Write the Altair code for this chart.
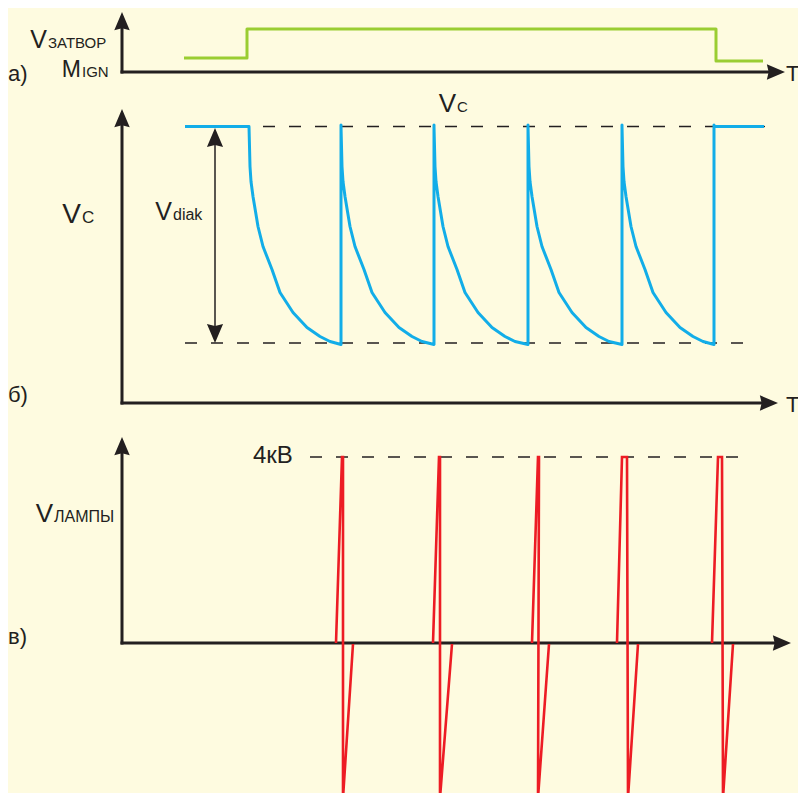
import altair as alt
import pandas as pd

BG = "#fefbe0"
INK = "#231f20"
GREEN = "#9acd32"
BLUE = "#12ade8"
RED = "#ed1c24"
FONT = "Liberation Sans"

# ---- geometry of the three panels (diagram units = page pixels) ----
axis_origin_x = 122
axis_base_y = [72, 403, 643]
axis_top_y = [12, 109, 437]
axis_right_x = [785, 778, 791]

# a) gate voltage
gate_x = [184, 247, 247, 716, 716, 763]
gate_y = [58, 58, 29, 29, 61, 61]

# б) capacitor voltage
vc_high = 126.5
vc_low = 343
vc_lead_x = 185
vc_tooth_start = [249, 341, 434, 528, 622]
vc_tooth_end = [341, 434, 528, 622, 714]
vc_tail_end = 764
vc_shape_dx = [0, 1, 2, 4, 9, 14, 23, 31, 44, 58, 71, 81]
vc_shape_dy = [0, 40, 55, 70, 100, 120, 143, 166, 186, 201, 210, 215]
vdiak_x = 215

# в) lamp voltage
lamp_base_y = 643
lamp_peak_y = 457
lamp_trough_y = 798
spike_rise_x = [336, 433, 532, 617, 712]
spike_peak_x = [342, 439, 538, 622, 718]
spike_fall_x = [343, 440, 539, 627, 722]
spike_trough_x = [343, 440, 538, 628, 723]
spike_return_x = [353, 452, 549, 638, 733]

# dashed reference lines: x start, x end, y
dash_x = [185, 185, 310]
dash_x2 = [765, 757, 745]
dash_y = [126.5, 343, 457]

# labels: big part (right aligned), small part (left aligned)
big_text = ["V", "M", "V", "V", "V", "V"]
big_x = [47, 81, 81, 172, 456, 53]
big_y = [48, 77, 223, 220, 112, 522]
big_size = [25, 23, 28, 25, 26, 26]
small_text = ["ЗАТВОР", "IGN", "C", "diak", "C", "ЛАМПЫ"]
small_size = [15, 15, 17, 16, 15, 16]
plain_text = ["а)", "б)", "в)", "4кВ", "T", "T"]
plain_x = [8, 8, 8, 253, 786, 786]
plain_y = [81, 402, 644, 463, 81, 412]
plain_size = [22, 22, 22, 24, 22, 22]

# ---- tables ----
xs = alt.Scale(domain=[8, 798], nice=False, zero=False)
ys = alt.Scale(domain=[8, 793], nice=False, zero=False, reverse=True)
X = lambda f="x": alt.X(f"{f}:Q", scale=xs, axis=None)
Y = lambda f="y": alt.Y(f"{f}:Q", scale=ys, axis=None)

# axes
ax_rows = []
for b, t, r in zip(axis_base_y, axis_top_y, axis_right_x):
    ax_rows.append(dict(x=axis_origin_x, x2=axis_origin_x, y=b + 1.5, y2=t + 6))
    ax_rows.append(dict(x=axis_origin_x - 1.5, x2=r - 6, y=b, y2=b))
axes_df = pd.DataFrame(ax_rows)

arrow_rows = []
for b, t, r in zip(axis_base_y, axis_top_y, axis_right_x):
    arrow_rows.append(dict(x=axis_origin_x, y=t, angle=0, size=330))
    arrow_rows.append(dict(x=r, y=b, angle=90, size=330))
arrow_rows.append(dict(x=vdiak_x, y=vc_high + 1.5, angle=0, size=360))
arrow_rows.append(dict(x=vdiak_x, y=vc_low, angle=180, size=360))
arrows_df = pd.DataFrame(arrow_rows)

vdiak_df = pd.DataFrame([dict(x=vdiak_x, x2=vdiak_x, y=vc_high + 8, y2=vc_low - 8)])

dash_df = pd.DataFrame(dict(x=dash_x, x2=dash_x2, y=dash_y))

gate_df = pd.DataFrame(dict(x=gate_x, y=gate_y, i=range(len(gate_x))))

vc_rows = [(vc_lead_x, vc_high)]
for s, e in zip(vc_tooth_start, vc_tooth_end):
    vc_rows.append((s, vc_high))
    for dx, dy in zip(vc_shape_dx, vc_shape_dy):
        vc_rows.append((s + dx, vc_high + dy))
    vc_rows.append((e, vc_low + 1.5))
    vc_rows.append((e, vc_high - 1.5))
vc_rows.append((vc_tooth_end[-1], vc_high))
vc_rows.append((vc_tail_end, vc_high))
vc_df = pd.DataFrame(vc_rows, columns=["x", "y"])
vc_df["i"] = range(len(vc_df))

lamp_rows = []
for k in range(len(spike_rise_x)):
    pts = [(spike_rise_x[k], lamp_base_y), (spike_peak_x[k], lamp_peak_y),
           (spike_fall_x[k], lamp_peak_y), (spike_trough_x[k], lamp_trough_y),
           (spike_return_x[k], lamp_base_y + 1)]
    for j, (px, py) in enumerate(pts):
        lamp_rows.append(dict(x=px, y=py, spike=k, i=j))
lamp_df = pd.DataFrame(lamp_rows)

big_df = pd.DataFrame(dict(x=big_x, y=big_y, t=big_text, s=big_size))
small_df = pd.DataFrame(dict(x=[v + 1 for v in big_x], y=big_y, t=small_text, s=small_size))
plain_df = pd.DataFrame(dict(x=plain_x, y=plain_y, t=plain_text, s=plain_size))

ARROW = "M0,0L0.85,2L0,1.8L-0.85,2Z"

layers = [
    alt.Chart(dash_df).mark_rule(color=INK, strokeWidth=1.3, strokeDash=[12, 14]).encode(
        x=X(), x2="x2:Q", y=Y()),
    alt.Chart(axes_df).mark_rule(color=INK, strokeWidth=3).encode(
        x=X(), x2="x2:Q", y=Y(), y2="y2:Q"),
    alt.Chart(vdiak_df).mark_rule(color=INK, strokeWidth=1.5).encode(
        x=X(), x2="x2:Q", y=Y(), y2="y2:Q"),
    alt.Chart(arrows_df).mark_point(shape=ARROW, filled=True, opacity=1, color=INK, strokeWidth=0).encode(
        x=X(), y=Y(), angle=alt.Angle("angle:Q", scale=None), size=alt.Size("size:Q", scale=None)),
    alt.Chart(gate_df).mark_line(color=GREEN, strokeWidth=3, strokeJoin="round").encode(
        x=X(), y=Y(), order="i:Q"),
    alt.Chart(vc_df).mark_line(color=BLUE, strokeWidth=3, strokeJoin="round").encode(
        x=X(), y=Y(), order="i:Q"),
    alt.Chart(lamp_df).mark_line(color=RED, strokeWidth=2.6, strokeJoin="miter").encode(
        x=X(), y=Y(), order="i:Q", detail="spike:N"),
    alt.Chart(big_df).mark_text(align="right", baseline="alphabetic", font=FONT, color=INK).encode(
        x=X(), y=Y(), text="t:N", size=alt.Size("s:Q", scale=None)),
    alt.Chart(small_df).mark_text(align="left", baseline="alphabetic", font=FONT, color=INK).encode(
        x=X(), y=Y(), text="t:N", size=alt.Size("s:Q", scale=None)),
    alt.Chart(plain_df).mark_text(align="left", baseline="alphabetic", font=FONT, color=INK).encode(
        x=X(), y=Y(), text="t:N", size=alt.Size("s:Q", scale=None)),
]

chart = alt.layer(*layers).properties(
    width=790, height=785,
    autosize=alt.AutoSizeParams(type="none"),
    padding=0,
    background=BG,
).configure_view(strokeWidth=0)

chart.save("out.html", embed_options={"renderer": "svg", "actions": False})
